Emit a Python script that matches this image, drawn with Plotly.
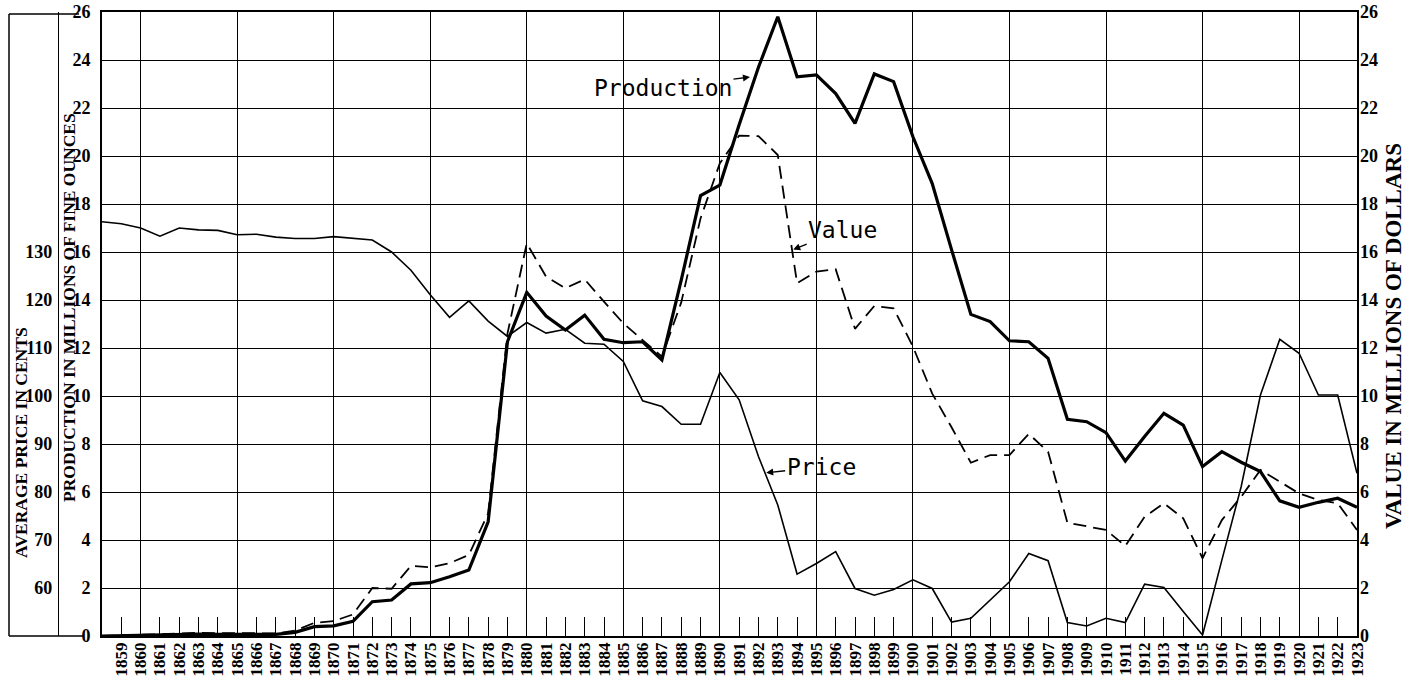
import plotly.graph_objects as go

# ---------------- data ----------------
years = list(range(1858, 1924))

price_cents = [
    136.3, 135.9, 135.0, 133.3, 135.0, 134.6, 134.5, 133.6, 133.7, 133.1,   # 1858-1867
    132.8, 132.8, 133.2, 132.8, 132.5, 130.0, 126.2, 121.1, 116.4, 119.8,   # 1868-1877
    115.6, 112.4, 115.3, 113.1, 113.9, 111.0, 110.8, 107.2, 99.0, 97.8,     # 1878-1887
    94.1, 94.1, 104.9, 99.2, 87.4, 77.3, 62.9, 65.1, 67.6, 59.9,            # 1888-1897
    58.5, 59.7, 61.7, 59.9, 52.9, 53.7, 57.5, 61.3, 67.2, 65.7,             # 1898-1907
    52.8, 52.1, 53.7, 52.8, 60.8, 60.1, 55.1, 50.2, 65.8, 81.1,             # 1908-1917
    100.2, 111.8, 108.9, 100.2, 100.2, 83.9,                                 # 1918-1923
]

production_moz = [
    0.0, 0.02, 0.05, 0.06, 0.07, 0.08, 0.07, 0.07, 0.06, 0.07,              # 1858-1867
    0.15, 0.39, 0.42, 0.61, 1.43, 1.50, 2.17, 2.22, 2.47, 2.75,             # 1868-1877
    4.76, 12.26, 14.32, 13.33, 12.75, 13.37, 12.36, 12.22, 12.26, 11.5,     # 1878-1887
    14.83, 18.35, 18.79, 21.3, 23.7, 25.8, 23.3, 23.38, 22.6, 21.36,        # 1888-1897
    23.42, 23.1, 20.8, 18.85, 16.1, 13.4, 13.1, 12.3, 12.26, 11.57,         # 1898-1907
    9.03, 8.93, 8.47, 7.29, 8.31, 9.28, 8.79, 7.06, 7.68, 7.24,             # 1908-1917
    6.85, 5.63, 5.36, 5.57, 5.74, 5.36,                                      # 1918-1923
]

value_musd = [
    0.0, 0.03, 0.07, 0.10, 0.12, 0.13, 0.12, 0.12, 0.10, 0.11,              # 1858-1867
    0.22, 0.55, 0.62, 0.90, 2.00, 1.97, 2.92, 2.86, 3.03, 3.38,             # 1868-1877
    5.11, 12.6, 16.36, 14.97, 14.49, 14.86, 13.93, 13.03, 12.33, 11.64,     # 1878-1887
    13.9, 17.4, 19.7, 20.85, 20.83, 20.04, 14.7, 15.18, 15.28, 12.8,        # 1888-1897
    13.75, 13.65, 12.06, 10.1, 8.7, 7.22, 7.54, 7.54, 8.42, 7.68,           # 1898-1907
    4.72, 4.56, 4.42, 3.75, 4.97, 5.53, 4.9, 3.24, 4.83, 5.8,               # 1908-1917
    6.92, 6.43, 5.94, 5.67, 5.53, 4.42,                                      # 1918-1923
]

label_years = list(range(1859, 1924))
label_text = [str(y) for y in label_years]
grid_years = list(range(1860, 1921, 5))
prod_ticks = list(range(0, 27, 2))
price_ticks = list(range(60, 131, 10))

# ---------------- geometry helpers ----------------
W, H = 1413, 679
L, R, T, B = 102, 1357, 12, 636   # plot area in pixels


def px(x):
    return x / W


def py(y):
    return 1 - y / H


serif = "Liberation Serif"
tick_font = dict(family=serif, size=18, color="black", weight="bold")
year_font = dict(family=serif, size=17, color="black", weight="bold")
letter_font = dict(family="DejaVu Sans Mono", size=23, color="black")

fig = go.Figure()
fig.add_trace(go.Scatter(x=years, y=price_cents, xaxis="x2", yaxis="y3", mode="lines",
                         line=dict(color="black", width=1.6), name="Price"))
fig.add_trace(go.Scatter(x=years, y=value_musd, xaxis="x", yaxis="y2", mode="lines",
                         line=dict(color="black", width=1.8, dash="13px,7px"), name="Value"))
fig.add_trace(go.Scatter(x=years, y=production_moz, xaxis="x", yaxis="y", mode="lines",
                         line=dict(color="black", width=3.2), name="Production"))

fig.update_layout(
    width=W, height=H, autosize=False,
    margin=dict(l=0, r=0, t=0, b=0),
    paper_bgcolor="white", plot_bgcolor="white", showlegend=False,
    xaxis=dict(domain=[px(L), px(R)], range=[1858, 1923], tickmode="array", tickvals=grid_years,
               showticklabels=False, ticks="", showgrid=True, gridcolor="black", gridwidth=1.4,
               showline=True, linecolor="black", linewidth=1.6, mirror=True, zeroline=False,
               automargin=False, fixedrange=True),
    xaxis2=dict(overlaying="x", matches="x", anchor="y", side="bottom", range=[1858, 1923],
                tickmode="array", tickvals=label_years, ticktext=label_text, tickangle=-90,
                ticks="inside", ticklen=19, tickwidth=1.4, tickcolor="black",
                showgrid=False, showline=False, zeroline=False, tickfont=year_font,
                ticklabelstandoff=2, ticklabeloverflow="allow", automargin=False, fixedrange=True),
    yaxis=dict(domain=[py(B), py(T)], range=[0, 26], tickmode="array", tickvals=prod_ticks,
               showgrid=True, gridcolor="black", gridwidth=1.4, showline=True, linecolor="black",
               linewidth=1.6, mirror=True, zeroline=False, ticks="", tickfont=tick_font,
               ticklabelstandoff=6, ticklabeloverflow="allow", automargin=False, fixedrange=True),
    yaxis2=dict(overlaying="y", anchor="x", side="right", range=[0, 26], tickmode="array",
                tickvals=prod_ticks, showgrid=False, zeroline=False, showline=False, ticks="",
                tickfont=tick_font, ticklabelstandoff=2, ticklabeloverflow="allow",
                automargin=False, fixedrange=True),
    yaxis3=dict(overlaying="y", anchor="free", position=px(58), side="left", range=[50, 180],
                tickmode="array", tickvals=price_ticks, showgrid=False, zeroline=False,
                showline=True, linecolor="black", linewidth=1.4, ticks="", tickfont=tick_font,
                ticklabelstandoff=2, automargin=False, fixedrange=True),
)

# outer frame on the left
frame = dict(type="line", xref="paper", yref="paper", line=dict(color="black", width=1.5))
fig.add_shape(**frame, x0=px(9), x1=px(9), y0=py(14), y1=py(636))
fig.add_shape(**frame, x0=px(9), x1=px(79), y0=py(14), y1=py(14))
fig.add_shape(**frame, x0=px(9), x1=px(84), y0=py(636), y1=py(636))

# axis titles
title_font = dict(family=serif, size=17.5, color="black", weight="bold")
fig.add_annotation(text="AVERAGE PRICE IN CENTS", xref="paper", yref="paper", x=px(21), y=py(443),
                   textangle=-90, showarrow=False, font=title_font, xanchor="center", yanchor="middle")
fig.add_annotation(text="PRODUCTION IN MILLIONS OF FINE OUNCES", xref="paper", yref="paper",
                   x=px(69), y=py(308), textangle=-90, showarrow=False, font=title_font,
                   xanchor="center", yanchor="middle")
fig.add_annotation(text="VALUE IN MILLIONS OF DOLLARS", xref="paper", yref="paper",
                   x=px(1393), y=py(336), textangle=-90, showarrow=False,
                   font=dict(family=serif, size=23, color="black", weight="bold"),
                   xanchor="center", yanchor="middle")

# series labels with arrows
arrow = dict(showarrow=True, arrowhead=2, arrowsize=1, arrowwidth=1.4, arrowcolor="black",
             font=letter_font)
fig.add_annotation(text="Production", x=1891.56, y=23.29, xref="x", yref="y", ax=-87, ay=11, **arrow)
fig.add_annotation(text="Value", x=1893.8, y=16.1, xref="x", yref="y2", ax=49, ay=-20, **arrow)
fig.add_annotation(text="Price", x=1892.4, y=84.0, xref="x", yref="y3", ax=55, ay=-6, **arrow)

# remove the default 8px page margin so the figure fills the window exactly
fig.write_html("out.html", config={"displayModeBar": False},
               post_script="document.body.style.margin='0px';")
